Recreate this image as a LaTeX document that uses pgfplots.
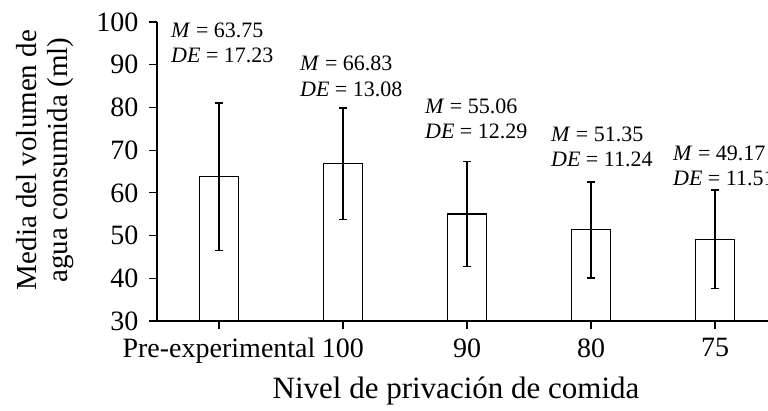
\documentclass[border=0pt]{standalone}
\usepackage{pgfplots}
\pgfplotsset{compat=1.18}
\usepackage{fontspec}
\setmainfont{Liberation Serif}
\begin{document}
\begin{tikzpicture}
% page frame: the plot area runs on past the right edge
\useasboundingbox (-157pt,-89pt) rectangle (611pt,321pt);
\begin{axis}[
  scale only axis,
  width=620pt, height=299pt,
  xmin=-0.5, xmax=4.5,
  ymin=30, ymax=100,
  axis x line*=bottom,
  axis y line*=left,
  axis line style={-, line width=1.2pt, black},
  ytick={30,40,...,100},
  xtick={0,1,2,3,4},
  xticklabels={Pre-experimental,100,90,80,75},
  tick align=outside,
  major tick length=8pt,
  every tick/.style={black, line width=1.2pt},
  tick label style={font=\fontsize{28}{31}\selectfont},
  /pgf/number format/assume math mode=true,
  yticklabel style={xshift=-7pt},
  xticklabel style={yshift=-6pt},
  ybar,
  bar width=39pt,
]
\addplot[fill=white, draw=black, line width=1.2pt,
  error bars/.cd, y dir=both, y explicit,
  error bar style={line width=1.5pt, black},
  error mark options={rotate=90, mark size=4pt, line width=1.5pt, black}]
  coordinates {
    (0,63.75) +- (0,17.23)
    (1,66.83) +- (0,13.08)
    (2,55.06) +- (0,12.29)
    (3,51.35) +- (0,11.24)
    (4,49.17) +- (0,11.51)
  };
% mean and standard deviation above each bar
\begin{scope}[every node/.style={anchor=base west, inner sep=0pt, font=\fontsize{22}{26}\selectfont}]
\node at (axis cs:-0.387,96.26) {\textit{M} = 63.75};
\node at (axis cs:-0.387,90.41) {\textit{DE} = 17.23};
\node at (axis cs:0.653,88.60) {\textit{M} = 66.83};
\node at (axis cs:0.653,82.52) {\textit{DE} = 13.08};
\node at (axis cs:1.661,78.63) {\textit{M} = 55.06};
\node at (axis cs:1.661,72.77) {\textit{DE} = 12.29};
\node at (axis cs:2.677,71.98) {\textit{M} = 51.35};
\node at (axis cs:2.677,66.13) {\textit{DE} = 11.24};
\node at (axis cs:3.661,67.53) {\textit{M} = 49.17};
\node at (axis cs:3.661,61.61) {\textit{DE} = 11.51};
\end{scope}
\end{axis}
% axis titles
\node[anchor=base, font=\fontsize{31}{34}\selectfont] at (299pt,-77pt) {Nivel de privación de comida};
\node[anchor=base, rotate=90, font=\fontsize{29}{32}\selectfont] at (-120pt,161pt) {Media del volumen de};
\node[anchor=base, rotate=90, font=\fontsize{29}{32}\selectfont] at (-89pt,161pt) {agua consumida (ml)};
\end{tikzpicture}
\end{document}
